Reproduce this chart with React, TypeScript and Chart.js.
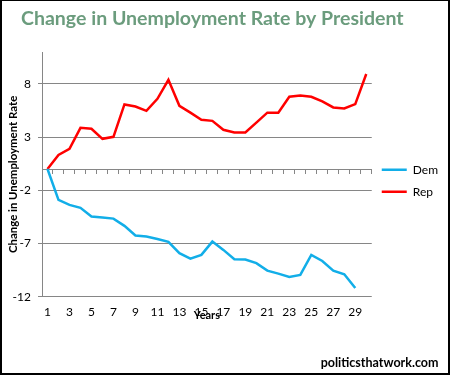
import React, { useEffect, useRef } from 'react';
import { Chart, registerables } from 'chart.js';

Chart.register(...registerables);

const years = ['1','2','3','4','5','6','7','8','9','10','11','12','13','14','15','16','17','18','19','20','21','22','23','24','25','26','27','28','29','30'];
const tickLabels = ['1','3','5','7','9','11','13','15','17','19','21','23','25','27','29'];
const yTicks = [-12, -7, -2, 3, 8];
const dem = [0, -2.9, -3.37, -3.65, -4.47, -4.56, -4.66, -5.34, -6.25, -6.35, -6.57, -6.85, -7.91, -8.42, -8.07, -6.82, -7.6, -8.48, -8.5, -8.85, -9.55, -9.83, -10.14, -9.95, -8.07, -8.64, -9.55, -9.89, -11.18];
const rep = [0, 1.33, 1.9, 3.87, 3.78, 2.84, 3.03, 6.07, 5.88, 5.47, 6.6, 8.39, 5.94, 5.3, 4.63, 4.53, 3.69, 3.43, 3.43, 4.36, 5.3, 5.3, 6.8, 6.9, 6.79, 6.35, 5.79, 5.69, 6.1, 8.93];

const titleText = 'Change in Unemployment Rate by President';
const watermarkText = 'politicsthatwork.com';
const FONT = 'Lato';
const GRID = '#868686';

const textPlugin = {
  id: 'extraTexts',
  afterDraw(chart: any) {
    const ctx = chart.ctx;
    ctx.save();
    ctx.font = `bold 20px ${FONT}`;
    const tw = ctx.measureText(titleText).width;
    const ts = 20 * 383 / tw;
    ctx.font = `bold ${ts}px ${FONT}`;
    ctx.fillStyle = '#6b9c7d';
    ctx.textAlign = 'left';
    ctx.textBaseline = 'alphabetic';
    ctx.fillText(titleText, 19, 24);
    ctx.font = `bold 13px ${FONT}`;
    const ww = ctx.measureText(watermarkText).width;
    const ws = 13 * 118 / ww;
    ctx.font = `bold ${ws}px ${FONT}`;
    ctx.fillStyle = '#000';
    ctx.textAlign = 'right';
    ctx.fillText(watermarkText, 436.5, 365.5);
    ctx.restore();
  },
};

export default function App() {
  const ref = useRef<HTMLCanvasElement>(null);
  useEffect(() => {
    if (!ref.current) return;
    const chart = new Chart(ref.current, {
      type: 'line',
      data: {
        labels: years,
        datasets: [
          { label: 'Dem', data: dem, borderColor: '#12aee8', backgroundColor: '#12aee8', borderWidth: 2.5, pointRadius: 0, tension: 0, fill: false },
          { label: 'Rep', data: rep, borderColor: '#ff0000', backgroundColor: '#ff0000', borderWidth: 2.5, pointRadius: 0, tension: 0, fill: false },
        ],
      },
      options: {
        animation: false,
        responsive: false,
        layout: { padding: { top: 51, bottom: 50.7, left: 0, right: 0 } },
        plugins: {
          tooltip: { enabled: false },
          title: { display: false },
          legend: {
            position: 'right',
            title: { display: true, text: '', font: { size: 10 }, padding: { top: -25, bottom: 0 } },
            labels: {
              usePointStyle: true,
              pointStyle: 'line',
              pointStyleWidth: 25,
              padding: 10,
              color: '#000',
              font: { family: FONT, size: 12 },
            },
          },
        },
        scales: {
          x: {
            type: 'category',
            offset: true,
            afterFit: (s: any) => { s.height = 25.6; },
            grid: { display: false, drawTicks: false },
            border: { display: false },
            ticks: {
              autoSkip: false,
              maxRotation: 0,
              padding: 8,
              color: '#000',
              font: { family: FONT, size: 12 },
              callback: (_v: any, i: number) => (tickLabels.includes(years[i]) ? years[i] : ''),
            },
            title: {
              display: true,
              text: 'Years',
              color: '#000',
              font: { family: FONT, size: 11, weight: 'bold' },
              padding: { top: 0, bottom: 0 },
            },
          },
          x2: {
            type: 'category',
            position: { y: 0 } as any,
            offset: true,
            grid: { display: true, offset: true, drawOnChartArea: false, drawTicks: true, tickLength: 4, color: GRID },
            border: { display: true, color: GRID, width: 1 },
            ticks: { display: false },
          },
          y: {
            min: -12,
            max: 11,
            afterBuildTicks: (s: any) => { s.ticks = yTicks.map((v) => ({ value: v })); },
            afterFit: (s: any) => { s.width = 40; },
            grid: { color: GRID, tickLength: 4, drawTicks: true },
            border: { display: true, color: GRID },
            ticks: { padding: 7, color: '#000', font: { family: FONT, size: 12 } },
            title: {
              display: true,
              text: 'Change in Unemployment Rate',
              color: '#000',
              font: { family: FONT, size: 11.4, weight: 'bold' },
              padding: { top: 4, bottom: 0 },
            },
          },
        },
      } as any,
      plugins: [textPlugin],
    });
    return () => chart.destroy();
  }, []);
  return (
    <div style={{ position: 'absolute', left: 0, top: 0, width: 450, height: 375, boxSizing: 'border-box', borderStyle: 'solid', borderColor: '#000', borderWidth: '1px 2px 2px 2px', background: '#fff' }}>
      <canvas ref={ref} width={446} height={372} style={{ display: 'block' }} />
    </div>
  );
}
